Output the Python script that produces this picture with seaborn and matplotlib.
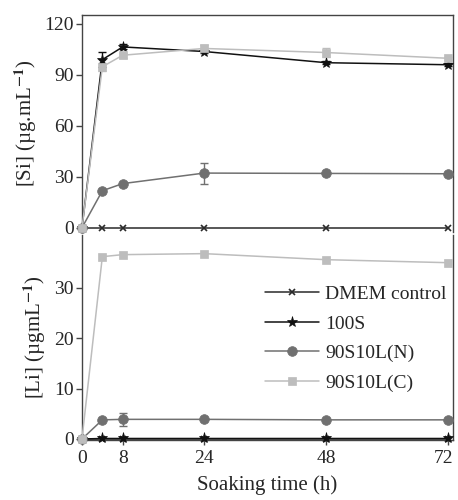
import numpy as np
import matplotlib
matplotlib.use("Agg")
import matplotlib.pyplot as plt
import matplotlib.transforms as mtransforms
import seaborn as sns

# soaking times (h)
hours = [0, 4, 8, 24, 48, 72]
xticks = [0, 8, 24, 48, 72]

# [Si] ug/mL
si_dmem = [0, 0, 0, 0, 0, 0]
si_100s = [0, 99, 106.5, 103.8, 97.2, 96.0]
si_n = [0, 21.8, 26.0, 32.2, 32.0, 31.8]
si_c = [0, 94.8, 101.6, 105.6, 103.2, 99.8]
si_100s_err = [0, 4.5, 1.5, 1.0, 0.8, 0.8]
si_n_err = [0, 0.5, 0.5, 6.2, 0.5, 0.5]
si_c_err = [0, 2.5, 1.5, 2.2, 2.8, 1.0]

# [Li] ug/mL
li_dmem = [0, 0, 0, 0, 0, 0]
li_100s = [0, 0.1, 0.1, 0.1, 0.1, 0.1]
li_n = [0, 3.8, 3.9, 3.9, 3.8, 3.8]
li_c = [0, 36.2, 36.6, 36.8, 35.6, 35.0]
li_n_err = [0, 0.2, 1.3, 0.2, 0.2, 0.2]

labels = ["DMEM control", "100S", "90S10L(N)", "90S10L(C)"]
colors = ["#2a2a2a", "#111111", "#707070", "#bdbdbd"]
markers = ["x", "*", "o", "s"]
msizes = [4.5, 8, 7, 6]

sns.set_style("white")
plt.rcParams["font.family"] = ["Liberation Serif", "DejaVu Serif"]
plt.rcParams["mathtext.fontset"] = "stix"

fig = plt.figure(figsize=(4.58, 5.0), dpi=100)
ax1 = fig.add_axes([0.179, 0.536, 0.810, 0.434])
ax2 = fig.add_axes([0.179, 0.120, 0.810, 0.410])


def draw(ax, series, errs):
    for i, ys in enumerate(series):
        sns.lineplot(x=hours, y=ys, ax=ax, color=colors[i], marker=markers[i],
                     markersize=msizes[i], markeredgecolor=colors[i],
                     markeredgewidth=1.2 if markers[i] == "x" else 0.5,
                     linewidth=1.1, label=labels[i], clip_on=False, zorder=3 + i)
        if errs[i] is not None:
            ax.errorbar(hours, ys, yerr=errs[i], fmt="none", ecolor=colors[i],
                        elinewidth=1, capsize=3, capthick=1, zorder=2)


draw(ax1, [si_dmem, si_100s, si_n, si_c], [None, si_100s_err, si_n_err, si_c_err])
draw(ax2, [li_dmem, li_100s, li_n, li_c], [None, None, li_n_err, None])

ax1.set_xlim(0, 72.9)
ax2.set_xlim(0, 72.9)
ax1.set_ylim(-2.5, 125.3)
ax2.set_ylim(-0.2, 40.5)
ax1.set_yticks([0, 30, 60, 90, 120])
ax2.set_yticks([0, 10, 20, 30])
ax1.set_xticks([])
ax2.set_xticks(xticks)

for ax in (ax1, ax2):
    for s in ax.spines.values():
        s.set_color("#444444")
        s.set_linewidth(1.0)
    ax.tick_params(axis="y", direction="out", length=4, width=1, color="#444444",
                   labelsize=14, pad=2, left=True)
    ax.tick_params(axis="x", direction="inout", length=7, width=1, color="#444444",
                   labelsize=14, pad=4, bottom=True)
    ax.set_xlabel("")

# nudge the last x tick label left so it stays inside the figure
last = ax2.get_xticklabels()[-1]
last.set_transform(last.get_transform() + mtransforms.ScaledTranslation(-5 / 100, 0, fig.dpi_scale_trans))

ax1.spines["bottom"].set_visible(False)
ax2.spines["top"].set_visible(False)
ax1.legend_.remove()

ax1.set_ylabel("[Si] (µg.mL$^{\\mathbf{-1}}$)", fontsize=15, labelpad=4)
ax2.set_ylabel("[Li] (µgmL$^{\\mathbf{-1}}$)", fontsize=15, labelpad=4)
ax2.set_xlabel("Soaking time (h)", fontsize=15, labelpad=6)

ax2.legend(loc="upper right", bbox_to_anchor=(1.03, 0.84), frameon=False, fontsize=14,
           handlelength=2.8, handletextpad=0.3, labelspacing=0.62)

fig.savefig("out.png", dpi=100)
